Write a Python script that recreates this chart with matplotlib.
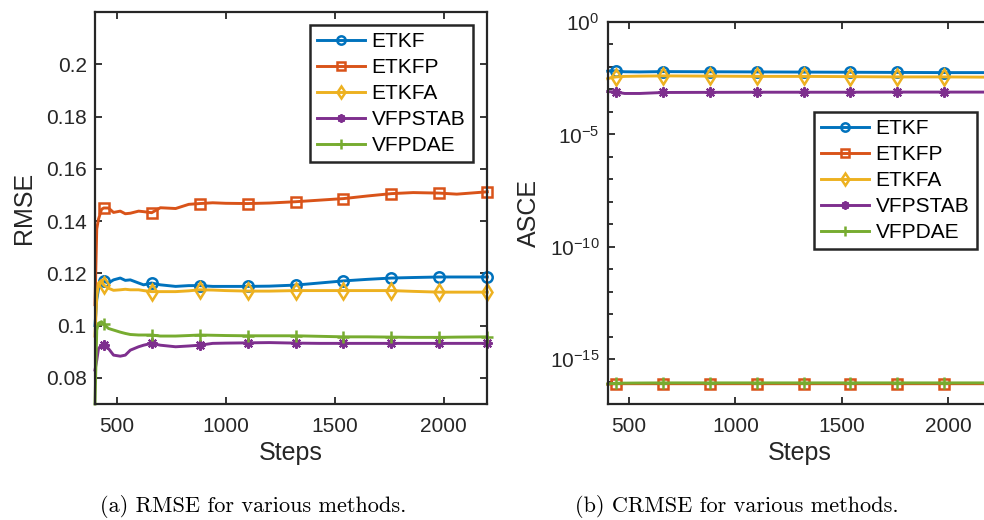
import numpy as np
import matplotlib
matplotlib.use('Agg')
import matplotlib.pyplot as plt
from matplotlib.ticker import FixedLocator, LogFormatterSciNotation, NullFormatter, FormatStrFormatter

plt.rcParams['font.family'] = ['Liberation Sans', 'DejaVu Sans']
plt.rcParams['mathtext.fontset'] = 'custom'
plt.rcParams['mathtext.rm'] = 'Liberation Sans'
plt.rcParams['mathtext.it'] = 'Liberation Sans:italic'
plt.rcParams['mathtext.default'] = 'regular'

methods = ['ETKF', 'ETKFP', 'ETKFA', 'VFPSTAB', 'VFPDAE']
marker_steps = [440, 660, 880, 1100, 1320, 1540, 1760, 1980, 2200]

# ---- (a) RMSE ----
steps_a = [400, 408, 416, 430, 440, 462, 485, 516, 539, 562, 600, 623, 660, 700, 770,
           830, 880, 940, 1000, 1100, 1200, 1320, 1430, 1540, 1650, 1760, 1860, 1980, 2060, 2200]
rmse_etkf = [0.100, 0.110, 0.114, 0.1165, 0.1169, 0.1163, 0.1175, 0.1182, 0.1173, 0.1175, 0.1163,
             0.1156, 0.1163, 0.1156, 0.1150, 0.1153, 0.1153, 0.1150, 0.1150, 0.1150, 0.1151, 0.1155,
             0.1163, 0.1171, 0.1177, 0.1182, 0.1184, 0.1186, 0.1186, 0.1186]
rmse_etkfp = [0.108, 0.137, 0.1407, 0.1445, 0.1450, 0.1450, 0.1433, 0.1438, 0.1428, 0.1430, 0.1438,
              0.1436, 0.1432, 0.1451, 0.1448, 0.1464, 0.1467, 0.1470, 0.1468, 0.1467, 0.1469, 0.1474,
              0.1480, 0.1486, 0.1496, 0.1505, 0.1509, 0.1507, 0.1503, 0.1512]
rmse_etkfa = [0.096, 0.111, 0.1163, 0.1173, 0.1155, 0.1143, 0.1135, 0.1137, 0.1139, 0.1137, 0.1137,
              0.1134, 0.1130, 0.1130, 0.1130, 0.1133, 0.1137, 0.1136, 0.1134, 0.1132, 0.1132, 0.1134,
              0.1134, 0.1134, 0.1134, 0.1134, 0.1131, 0.1128, 0.1128, 0.1128]
rmse_vfpstab = [0.083, 0.0867, 0.0912, 0.0925, 0.0925, 0.0912, 0.0887, 0.0883, 0.0887, 0.0906, 0.0919,
                0.0925, 0.0932, 0.0925, 0.0919, 0.0922, 0.0925, 0.0932, 0.0933, 0.0934, 0.0935, 0.0933,
                0.0932, 0.0932, 0.0932, 0.0932, 0.0932, 0.0932, 0.0932, 0.0932]
rmse_vfpdae = [0.070, 0.0983, 0.1009, 0.1015, 0.1005, 0.0989, 0.0983, 0.0975, 0.0970, 0.0966, 0.0964,
               0.0964, 0.0964, 0.0960, 0.0960, 0.0962, 0.0964, 0.0963, 0.0962, 0.0961, 0.0961, 0.0961,
               0.0959, 0.0957, 0.0957, 0.0956, 0.0955, 0.0955, 0.0956, 0.0957]
rmse_ticks = [0.08, 0.1, 0.12, 0.14, 0.16, 0.18, 0.2]
step_ticks = [500, 1000, 1500, 2000]

# ---- (b) ASCE ----
steps_b = [400, 420, 440, 480, 550, 660, 880, 1100, 1320, 1540, 1760, 1980, 2200]
asce_etkf = [6.5e-3, 6.8e-3, 6.6e-3, 6.1e-3, 6.0e-3, 6.2e-3, 6.1e-3, 6.0e-3, 5.9e-3, 5.8e-3, 5.7e-3, 5.6e-3, 5.6e-3]
asce_etkfp = [7.6e-17, 7.8e-17, 8.0e-17, 8.0e-17, 8.0e-17, 8.0e-17, 8.0e-17, 8.0e-17, 8.0e-17, 8.0e-17, 8.0e-17, 8.0e-17, 8.0e-17]
asce_etkfa = [3.0e-3, 3.4e-3, 3.6e-3, 3.8e-3, 3.9e-3, 4.0e-3, 3.9e-3, 3.8e-3, 3.8e-3, 3.7e-3, 3.6e-3, 3.6e-3, 3.5e-3]
asce_vfpstab = [8.0e-4, 7.8e-4, 7.5e-4, 6.6e-4, 6.6e-4, 7.3e-4, 7.4e-4, 7.5e-4, 7.5e-4, 7.5e-4, 7.6e-4, 7.6e-4, 7.6e-4]
asce_vfpdae = [7.8e-17, 8.2e-17, 8.4e-17, 8.5e-17, 8.6e-17, 8.7e-17, 8.7e-17, 8.7e-17, 8.7e-17, 8.7e-17, 8.7e-17, 8.7e-17, 8.7e-17]
asce_ticks = [1e-15, 1e-10, 1e-5, 1e0]

colors = ['#0072BD', '#D95319', '#EDB120', '#7E2F8E', '#77AC30']
markers = ['o', 's', 'd', (8, 2, 0), '+']
msizes = [7.5, 6.5, 8, 7.5, 9]
mews = [1.8, 1.8, 1.8, 1.5, 1.8]

axis_col = '#262626'

fig = plt.figure(figsize=(9.84, 5.2), dpi=100)
W, H = 984.0, 520.0
axa = fig.add_axes([95 / W, (H - 404) / H, 392.3 / W, 392 / H])
axb = fig.add_axes([607.7 / W, (H - 404) / H, 383.3 / W, 382 / H])


def mark_idx(steps):
    return [i for i, s in enumerate(steps) if s in marker_steps]


series_a = [rmse_etkf, rmse_etkfp, rmse_etkfa, rmse_vfpstab, rmse_vfpdae]
series_b = [asce_etkf, asce_etkfp, asce_etkfa, asce_vfpstab, asce_vfpdae]

for ax, steps, series in [(axa, steps_a, series_a), (axb, steps_b, series_b)]:
    for name, y, c, m, ms, mw in zip(methods, series, colors, markers, msizes, mews):
        ax.plot(steps, y, color=c, lw=2.1, marker=m, ms=ms, mew=mw,
                mfc='none', mec=c, markevery=mark_idx(steps), label=name, clip_on=False)

# axes (a)
axa.set_xlim(400, 2200)
axa.set_ylim(0.07, 0.22)
axa.set_xticks(step_ticks)
axa.set_yticks(rmse_ticks)
axa.yaxis.set_major_formatter(FormatStrFormatter('%g'))
axa.set_xlabel('Steps', fontsize=18, labelpad=4)
axa.set_ylabel('RMSE', fontsize=18, labelpad=7)

# axes (b)
axb.set_xlim(400, 2200)
axb.set_yscale('log')
axb.set_ylim(1e-17, 1)
axb.set_xticks(step_ticks)
axb.yaxis.set_major_locator(FixedLocator(asce_ticks))
axb.yaxis.set_major_formatter(LogFormatterSciNotation())
axb.yaxis.set_minor_locator(FixedLocator([10.0 ** k for k in range(-17, 1)]))
axb.yaxis.set_minor_formatter(NullFormatter())
axb.set_xlabel('Steps', fontsize=18, labelpad=4)
axb.set_ylabel('ASCE', fontsize=18, labelpad=6)

for ax in (axa, axb):
    for sp in ax.spines.values():
        sp.set_color(axis_col)
        sp.set_linewidth(1.6)
    ax.tick_params(axis='both', which='both', direction='in', top=True, right=True,
                   colors=axis_col, labelcolor=axis_col, labelsize=15, width=1.3)
    ax.tick_params(axis='x', which='major', length=5, pad=9)
    ax.tick_params(axis='y', which='major', length=5, pad=6)
    ax.tick_params(axis='y', which='minor', length=3.5)
    ax.xaxis.label.set_color(axis_col)
    ax.yaxis.label.set_color(axis_col)

leg_kw = dict(fontsize=15, numpoints=1, frameon=True, fancybox=False, borderaxespad=0,
              borderpad=0.35, handletextpad=0.3, handlelength=2.3, labelspacing=0.33,
              markerscale=0.8, bbox_transform=fig.transFigure, loc='upper left')
la = axa.legend(bbox_to_anchor=(310 / W, 1 - 25 / H), **leg_kw)
lb = axb.legend(bbox_to_anchor=(814 / W, 1 - 112 / H), **leg_kw)
for lg in (la, lb):
    fr = lg.get_frame()
    fr.set_edgecolor(axis_col)
    fr.set_linewidth(1.8)
    fr.set_alpha(1)

fig.text(253 / W, 1 - 507 / H, '(a) RMSE for various methods.', ha='center', va='center',
         fontfamily='cmr10', fontsize=16)
fig.text(737 / W, 1 - 507 / H, '(b) CRMSE for various methods.', ha='center', va='center',
         fontfamily='cmr10', fontsize=16)

fig.savefig('out.png', dpi=100)
